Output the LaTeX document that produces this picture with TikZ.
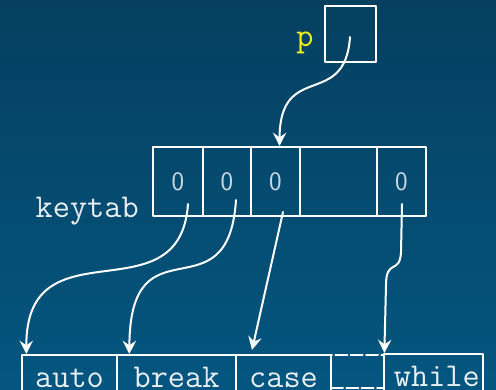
\documentclass[tikz,border=0pt]{standalone}
\usetikzlibrary{arrows.meta}

\definecolor{bgtop}{RGB}{5,64,96}
\definecolor{bgbot}{RGB}{4,86,128}
\definecolor{chalk}{RGB}{232,238,242}
\definecolor{zero}{RGB}{200,214,224}
\definecolor{ptr}{RGB}{240,240,20}
\newcommand{\pxu}{0.75pt}

\tikzset{
  slot/.style={draw=white, line width=1.5pt, minimum height=69*\pxu, inner sep=0pt,
    text=zero, font=\sffamily\fontsize{20}{20}\selectfont},
  word/.style={draw=white, line width=1.5pt, minimum height=64*\pxu, inner sep=0pt,
    text height=0pt, text depth=0pt, text=chalk, font=\ttfamily\fontsize{25}{25}\selectfont},
  tag/.style={text=chalk, font=\ttfamily\fontsize{25}{25}\selectfont, inner sep=0pt},
  link/.style={draw=white, line width=1.5pt, ->}
}

\begin{document}
\begin{tikzpicture}[line cap=round,line join=round,>={Stealth[length=10pt,width=10pt,inset=3.5pt]},x=0.75pt,y=-0.75pt]
        \shade [top color=bgtop, bottom color=bgbot] (0,0) rectangle (496,389);
        \useasboundingbox (0,0) rectangle (496,389);

        % pointer p
        \node [draw=white, line width=1.5pt, minimum width=51*\pxu, minimum height=56*\pxu] (pbox) at (350.5,34) {};
        \node [tag, text=ptr, anchor=base] (plabel) at (305,46) {p};

        % keytab
        \node [slot, minimum width=50*\pxu] (k1) at (178,181.5) {0};
        \node [slot, minimum width=48*\pxu] (k2) at (227,181.5) {0};
        \node [slot, minimum width=49*\pxu] (k3) at (275.5,181.5) {0};
        \node [slot, minimum width=77*\pxu] (k4) at (338.5,181.5) {};
        \node [slot, minimum width=49*\pxu] (k5) at (401.5,181.5) {0};
        \node [tag, anchor=base east] (keylabel) at (139,217) {keytab};

        % words
        \node [word, minimum width=95*\pxu]  (w1) at (69.5,387) {auto};
        \node [word, minimum width=119*\pxu] (w2) at (176.5,387) {break};
        \node [word, minimum width=95*\pxu]  (w3) at (283.5,387) {case};
        \node [draw=white, line width=1.5pt, dash pattern=on 9pt off 2.5pt, minimum width=53*\pxu, minimum height=33*\pxu] (gap) at (357.5,371.5) {};
        \node [word, minimum width=99*\pxu]  (w5) at (433.5,386) {\hspace*{5pt}while};

        % links
        \coordinate (ps) at (350,37);
        \coordinate (s1) at (188,204);
        \coordinate (s2) at (236,200);
        \coordinate (s3) at (283,212);
        \coordinate (s5) at (402,204);

        \draw [link] (ps) .. controls (345,110) and (280,60) .. ([xshift=3pt]k3.north);
        \draw [link] (s1) .. controls (180,320) and (26,220) .. ([xshift=4pt]w1.north west);
        \draw [link] (s2) .. controls (228,320) and (130,215) .. ([xshift=10pt]w2.north west);
        \draw [link] (s3) -- ([xshift=12.75pt,yshift=3pt]w3.north west);
        \draw [link] (s5) -- (401,252) .. controls (400,275) and (386,258) .. (386,285) -- ([xshift=1pt]w5.north west);
\end{tikzpicture}
\end{document}
